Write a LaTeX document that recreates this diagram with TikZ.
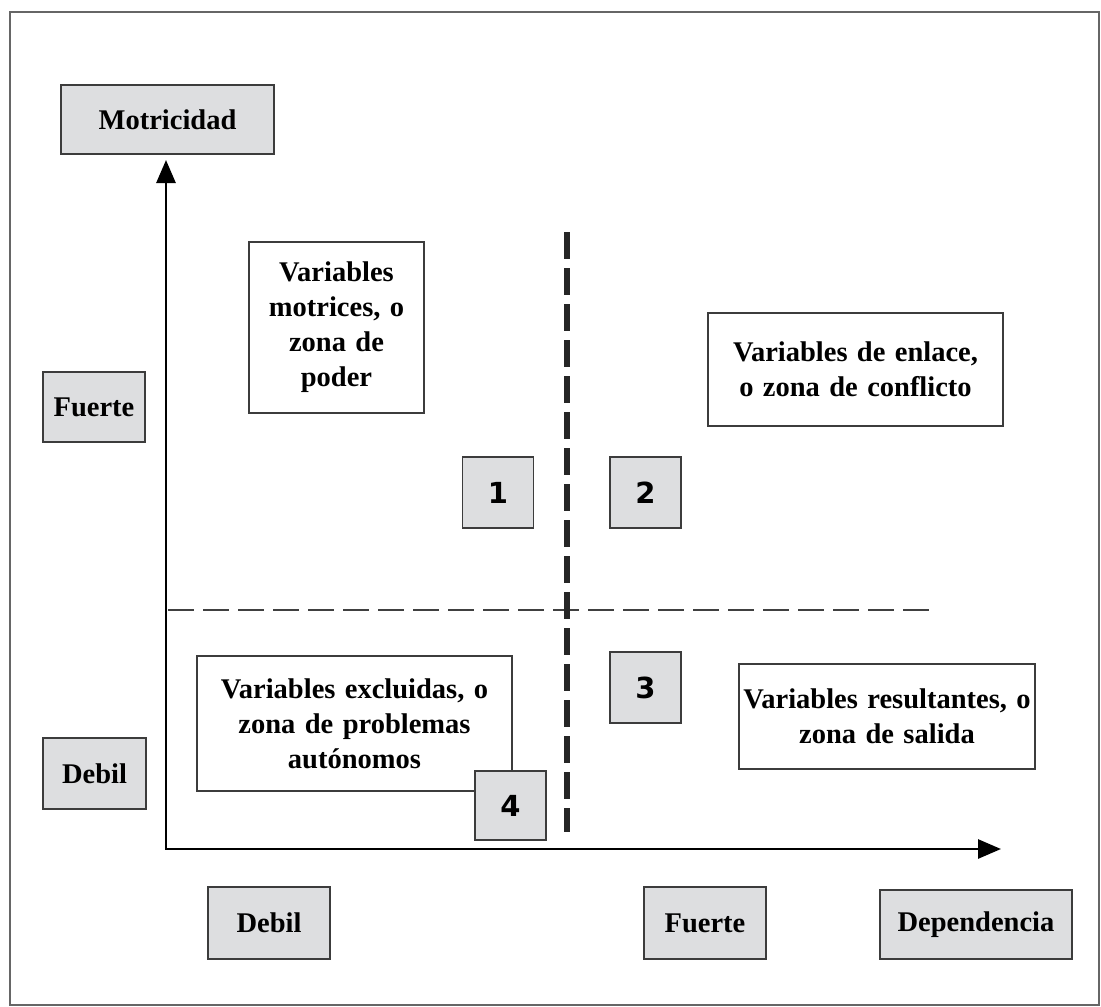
\documentclass[tikz,border=0pt]{standalone}
\usepackage{fontspec}
\setmainfont{Liberation Serif}
\newfontfamily\numfont{DejaVu Sans}
\usetikzlibrary{arrows.meta}
\definecolor{cajagris}{RGB}{221,222,224}
\definecolor{borde}{RGB}{60,60,60}
\newcommand{\espacioancho}{\spaceskip=0.33em plus 0.1em minus 0.05em\relax}

\begin{document}
\begin{tikzpicture}[x=1pt, y=-1pt,
	etiqueta/.style={draw=borde, line width=1.5pt, fill=cajagris, inner sep=0pt, font=\fontsize{28.5}{34}\selectfont\bfseries},
	zona/.style={draw=borde, line width=1.3pt, fill=white, inner sep=0pt, align=center, font=\fontsize{28.5}{35}\selectfont\bfseries\espacioancho},
	numero/.style={draw=borde, line width=1.5pt, fill=cajagris, inner sep=0pt, minimum width=71pt, minimum height=71pt, font=\fontsize{29}{34}\selectfont\numfont\bfseries},
	eje/.style={line width=2.8pt, {Triangle[length=23pt, width=19pt]}-{Triangle[length=23pt, width=19pt]}}]
	\useasboundingbox (0,0) rectangle (1101,1007);
	\draw[line width=1.2pt, black!60] (10,12) rectangle (1099,1005);

	\coordinate (tope) at (166,160);
	\coordinate (origen) at (166,849);
	\coordinate (fin) at (1001,849);
	\coordinate (divA) at (567,232);
	\coordinate (divB) at (567,832);
	\coordinate (medA) at (168,610);
	\coordinate (medB) at (932,610);

	\draw[line width=1.3pt, dash pattern=on 26pt off 9pt, black!75] (medA) -- (medB);
	\draw[line width=5.5pt, dash pattern=on 27pt off 9pt, black!85] (divA) -- (divB);
	\draw[eje] (tope) -- (origen) -- (fin);

	\node[etiqueta, minimum width=213pt, minimum height=69pt] (motricidad) at (167.5,119.5) {Motricidad};
	\node[etiqueta, minimum width=102pt, minimum height=70pt] (fuerteM) at (94,407) {Fuerte};
	\node[etiqueta, minimum width=103pt, minimum height=71pt] (debilM) at (94.5,773.5) {Debil};
	\node[etiqueta, minimum width=122pt, minimum height=72pt] (debilD) at (269,923) {Debil};
	\node[etiqueta, minimum width=122pt, minimum height=72pt] (fuerteD) at (705,923) {Fuerte};
	\node[etiqueta, minimum width=192pt, minimum height=69pt] (dependencia) at (976,924.5) {Dependencia};

	\node[zona, minimum width=175pt, minimum height=171pt] (motrices) at (336.5,327.5) {Variables\\motrices, o\\zona de\\poder};
	\node[zona, minimum width=295pt, minimum height=113pt] (enlace) at (855.5,369.5) {Variables de enlace,\\o zona de conflicto};
	\node[zona, minimum width=315pt, minimum height=135pt] (excluidas) at (354.5,723.5) {Variables excluidas, o\\zona de problemas\\autónomos};
	\node[zona, minimum width=296pt, minimum height=105pt] (resultantes) at (887,716.5) {Variables resultantes, o\\zona de salida};

	\node[numero] (zona1) at (498,492.5) {1};
	\node[numero] (zona2) at (645.5,492.5) {2};
	\node[numero] (zona3) at (645.5,687.5) {3};
	\node[numero, minimum height=69pt] (zona4) at (510.5,805.5) {4};
\end{tikzpicture}
\end{document}
